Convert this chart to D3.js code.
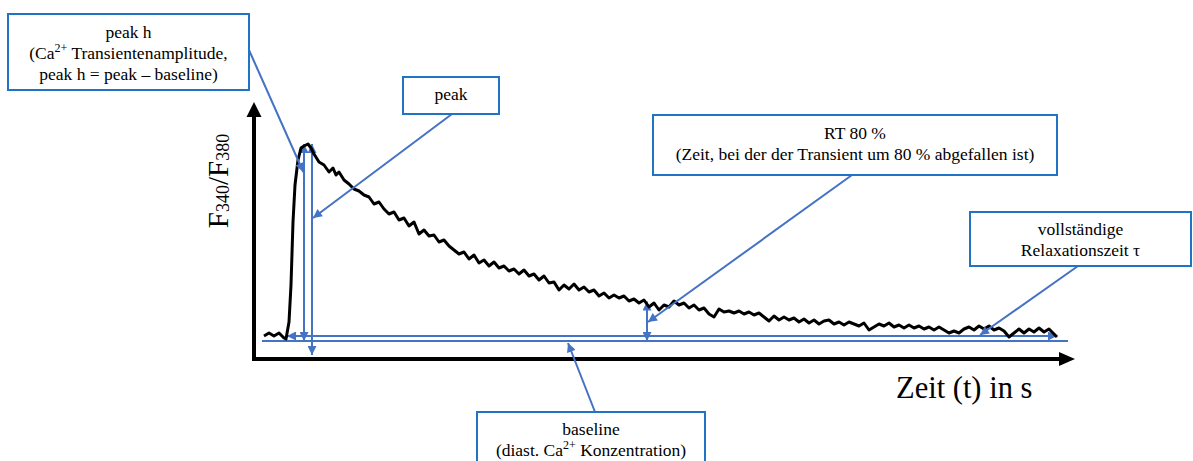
<!DOCTYPE html>
<html>
<head>
<meta charset="utf-8">
<script src="https://cdn.jsdelivr.net/npm/d3@7"></script>
<style>
body { margin: 0; background: #fff; }
svg { display: block; font-family: "Liberation Serif", "Times New Roman", serif; }
</style>
</head>
<body>
<svg id="chart"></svg>
<script>
// Ca2+ transient, time in s, F340/F380 ratio
var timeS = [1.0,1.5,2.0,2.5,3.0,3.2,3.5,3.7,3.9,4.1,4.4,4.7,5.0,5.4,5.7,6.0,6.5,7.0,7.5,7.9,8.2,8.5,
  9.0,9.5,10.0,10.5,11.0,11.5,12.0,12.5,13.0,13.5,14.0,14.5,15.0,15.5,16.0,16.5,17.0,17.5,18.0,18.5,
  19.0,19.5,20.0,20.5,21.0,21.5,22.0,22.5,23.0,23.5,24.0,24.5,25.0,25.5,26.0,26.5,27.0,27.5,28.0,28.5,
  29.0,29.5,30.0,30.5,31.0,31.5,32.0,32.5,33.0,33.5,34.0,34.5,35.0,35.5,36.0,36.5,37.0,37.5,38.0,38.5,
  39.0,39.5,40.0,40.5,41.0,41.5,42.0,42.5,43.0,43.5,44.0,44.5,45.0,45.5,46.0,46.5,47.0,47.5,48.0,48.5,
  49.0,49.5,50.0,50.5,51.0,51.5,52.0,52.5,53.0,53.5,54.0,54.5,55.0,55.5,56.0,56.5,57.0,57.5,58.0,58.5,
  59.0,59.5,60.0,60.5,61.0,61.5,62.0,62.5,63.0,63.5,64.0,64.5,65.0,65.5,66.0,66.5,67.0,67.5,68.0,68.5,
  69.0,69.5,70.0,70.5,71.0,71.5,72.0,72.5,73.0,73.5,74.0,74.5,75.0,75.5,76.0,76.5,77.0,77.5,78.0,78.5,
  79.0,79.5,80.0,80.3];
var ratio = [0.73,0.76,0.73,0.76,0.71,0.70,0.87,1.24,1.87,2.24,2.49,2.61,2.63,2.65,2.61,2.55,2.47,2.44,2.37,2.41,2.34,2.37,
  2.29,2.25,2.20,2.18,2.14,2.12,2.05,2.07,2.00,1.95,1.97,1.89,1.91,1.83,1.87,1.75,1.79,1.73,1.74,1.67,
  1.69,1.63,1.59,1.55,1.57,1.50,1.54,1.46,1.49,1.43,1.47,1.41,1.43,1.38,1.40,1.35,1.39,1.33,1.35,1.29,
  1.33,1.26,1.27,1.19,1.24,1.20,1.25,1.19,1.22,1.17,1.19,1.13,1.16,1.11,1.14,1.11,1.13,1.08,1.10,1.06,
  1.09,1.02,1.06,0.99,1.04,1.02,1.08,1.04,1.06,1.01,1.04,0.99,1.01,0.95,0.92,1.00,0.97,0.98,0.96,0.98,
  0.95,0.97,0.94,0.96,0.92,0.88,0.93,0.89,0.92,0.89,0.91,0.87,0.90,0.86,0.89,0.85,0.88,0.89,0.85,0.87,
  0.84,0.87,0.85,0.83,0.86,0.79,0.82,0.85,0.83,0.86,0.82,0.84,0.81,0.84,0.81,0.83,0.80,0.82,0.79,0.82,
  0.79,0.76,0.78,0.76,0.80,0.82,0.79,0.83,0.80,0.83,0.79,0.81,0.78,0.72,0.76,0.80,0.76,0.80,0.77,0.81,
  0.77,0.80,0.75,0.72];

// annotation values
var baselineRatio = 0.68;
var tauRatio = 0.73;          // level of the relaxation arrow
var tauSpan = [3.3, 80.3];
var baselineSpan = [0.8, 81.4];
var peakHTime = 5.0;
var peakTime = 5.8;
var peakFloor = 0.54;
var rtTime = 39.3;

var width = 1193,
    height = 461;

var blue = "#4472C4",
    boxBlue = "#1F74C6";

var svg = d3.select("#chart")
  .attr("width", width)
  .attr("height", height);

var x = d3.scaleLinear().domain([0, 80]).range([254, 1054]);
var y = d3.scaleLinear().domain([0.5, 3.0]).range([359, 109]);

var data = timeS.map(function(t, i) { return { t: t, v: ratio[i] }; });
var peak = d3.max(ratio);
var rt80 = baselineRatio + 0.2 * (peak - baselineRatio);

var defs = svg.append("defs");
defs.append("marker")
  .attr("id", "arr")
  .attr("viewBox", "0 0 10 10")
  .attr("refX", 10)
  .attr("refY", 5)
  .attr("markerUnits", "userSpaceOnUse")
  .attr("markerWidth", 10)
  .attr("markerHeight", 9)
  .attr("orient", "auto-start-reverse")
  .append("path")
  .attr("d", "M0,0L10,5L0,10z")
  .style("fill", blue);

// axes
var x0 = x.range()[0], yBase = y.range()[0];
var xTip = x.range()[1] + 21, yTip = 102;

svg.append("line")
  .attr("x1", x0).attr("y1", yBase + 2)
  .attr("x2", x0).attr("y2", yTip + 12)
  .style("stroke", "#000").style("stroke-width", 4);
svg.append("path")
  .attr("d", "M" + (x0 - 7.5) + "," + (yTip + 15) + "L" + x0 + "," + yTip + "L" + (x0 + 7.5) + "," + (yTip + 15) + "z")
  .style("fill", "#000");
svg.append("line")
  .attr("x1", x0 - 2).attr("y1", yBase)
  .attr("x2", xTip - 12).attr("y2", yBase)
  .style("stroke", "#000").style("stroke-width", 4);
svg.append("path")
  .attr("d", "M" + (xTip - 16) + "," + (yBase - 7) + "L" + xTip + "," + yBase + "L" + (xTip - 16) + "," + (yBase + 7) + "z")
  .style("fill", "#000");

svg.append("text")
  .attr("x", 896)
  .attr("y", 398)
  .style("font-size", "30.5px")
  .text("Zeit (t) in s");

var yl = svg.append("text")
  .attr("transform", "translate(228,181) rotate(-90)")
  .attr("text-anchor", "middle")
  .style("font-size", "29px");
yl.append("tspan").text("F");
yl.append("tspan").attr("dy", 1).style("font-size", "18px").text("340");
yl.append("tspan").attr("dy", -1).text("/F");
yl.append("tspan").attr("dy", 1).style("font-size", "18px").text("380");

// blue measurement lines
function seg(t1, v1, t2, v2, heads) {
  var l = svg.append("line")
    .attr("x1", x(t1)).attr("y1", y(v1))
    .attr("x2", x(t2)).attr("y2", y(v2))
    .style("stroke", blue).style("stroke-width", 2);
  if (heads > 0) l.attr("marker-end", "url(#arr)");
  if (heads > 1) l.attr("marker-start", "url(#arr)");
  return l;
}

seg(baselineSpan[0], baselineRatio, baselineSpan[1], baselineRatio, 0);
seg(tauSpan[0], tauRatio, tauSpan[1], tauRatio, 2);
seg(peakHTime, baselineRatio, peakHTime, peak, 2);
seg(peakTime, peakFloor, peakTime, peak, 2);
seg(rtTime, baselineRatio, rtTime, rt80, 2);

// transient curve
var line = d3.line()
  .x(function(d) { return x(d.t); })
  .y(function(d) { return y(d.v); });

svg.append("path")
  .datum(data)
  .attr("d", line)
  .style("fill", "none")
  .style("stroke", "#000")
  .style("stroke-width", 3)
  .style("stroke-linejoin", "round");

// annotation boxes
var boxes = [
  { x: 8, y: 14, w: 241, h: 76, base: 38,
    lines: [[["peak h"]], [["(Ca"], ["2+", 1], [" Transientenamplitude,"]], [["peak h = peak \u2013 baseline)"]]],
    from: [249, 50], to: [4.93, 2.37] },
  { x: 403, y: 77, w: 96, h: 37, base: 100,
    lines: [[["peak"]]],
    from: [452, 114], to: [5.9, 1.91] },
  { x: 653, y: 115, w: 404, h: 60, base: 139,
    lines: [[["RT 80 %"]], [["(Zeit, bei der der Transient um 80 % abgefallen ist)"]]],
    from: [852, 175], to: [39.4, 0.87] },
  { x: 970, y: 212, w: 221, h: 54, base: 235,
    lines: [[["vollst\u00e4ndige"]], [["Relaxationszeit \u03c4"]]],
    from: [1078, 266], to: [72.6, 0.74] },
  { x: 477, y: 412, w: 228, h: 52, base: 435,
    lines: [[["baseline"]], [["(diast. Ca"], ["2+", 1], [" Konzentration)"]]],
    from: [595, 412], to: [31.4, 0.66] }
];

boxes.forEach(function(b) {
  svg.append("line")
    .attr("x1", b.from[0]).attr("y1", b.from[1])
    .attr("x2", x(b.to[0])).attr("y2", y(b.to[1]))
    .attr("marker-end", "url(#arr)")
    .style("stroke", blue).style("stroke-width", 2);

  svg.append("rect")
    .attr("x", b.x).attr("y", b.y)
    .attr("width", b.w).attr("height", b.h)
    .style("fill", "#fff")
    .style("stroke", boxBlue)
    .style("stroke-width", 2);

  b.lines.forEach(function(parts, i) {
    var t = svg.append("text")
      .attr("x", b.x + b.w / 2)
      .attr("y", b.base + i * 21)
      .attr("text-anchor", "middle")
      .style("font-size", "17.5px");
    var up = false;
    parts.forEach(function(p) {
      var s = t.append("tspan").text(p[0]);
      if (p[1]) { s.attr("dy", -7).style("font-size", "12px"); up = true; }
      else if (up) { s.attr("dy", 7); up = false; }
    });
  });
});
</script>
</body>
</html>
